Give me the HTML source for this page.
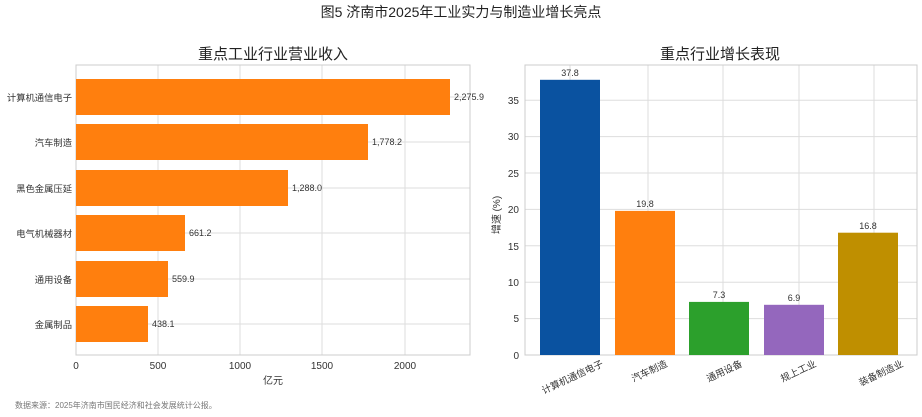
<!DOCTYPE html><html><head><meta charset="utf-8"><style>body{margin:0;background:#fff}svg{display:block;font-family:"Liberation Sans","Noto Sans CJK SC",sans-serif}</style></head><body>
<svg width="922" height="417" xmlns="http://www.w3.org/2000/svg">
<rect width="922" height="417" fill="#fff"/>
<text x="461" y="17" font-size="14" text-anchor="middle" fill="#222">图5 济南市2025年工业实力与制造业增长亮点</text>
<!-- left -->
<text x="273" y="59" font-size="15" text-anchor="middle" fill="#222">重点工业行业营业收入</text>
<g stroke="#ddd" stroke-width="1">
<line x1="158" y1="65" x2="158" y2="355"/><line x1="240" y1="65" x2="240" y2="355"/><line x1="322" y1="65" x2="322" y2="355"/><line x1="405" y1="65" x2="405" y2="355"/>
<line x1="76" y1="97" x2="470" y2="97"/><line x1="76" y1="142" x2="470" y2="142"/><line x1="76" y1="188" x2="470" y2="188"/><line x1="76" y1="233" x2="470" y2="233"/><line x1="76" y1="279" x2="470" y2="279"/><line x1="76" y1="324" x2="470" y2="324"/>
</g>
<rect x="76" y="65" width="394" height="290" fill="none" stroke="#ccc"/>
<g fill="#ff7f0e">
<rect x="76" y="79" width="374" height="36"/><rect x="76" y="124" width="292" height="36"/><rect x="76" y="170" width="212" height="36"/><rect x="76" y="215" width="109" height="36"/><rect x="76" y="261" width="92" height="36"/><rect x="76" y="306" width="72" height="36"/>
</g>
<g font-size="9" fill="#333">
<text x="454" y="100">2,275.9</text><text x="372" y="145">1,778.2</text><text x="292" y="191">1,288.0</text><text x="189" y="236">661.2</text><text x="172" y="282">559.9</text><text x="152" y="327">438.1</text>
</g>
<g font-size="9.3" fill="#333" text-anchor="end">
<text x="72" y="101">计算机通信电子</text><text x="72" y="146">汽车制造</text><text x="72" y="192">黑色金属压延</text><text x="72" y="237">电气机械器材</text><text x="72" y="283">通用设备</text><text x="72" y="328">金属制品</text>
</g>
<g font-size="10" fill="#333" text-anchor="middle">
<text x="76" y="369">0</text><text x="158" y="369">500</text><text x="240" y="369">1000</text><text x="322" y="369">1500</text><text x="405" y="369">2000</text>
<text x="273" y="384">亿元</text>
</g>
<!-- right -->
<text x="720" y="59" font-size="15" text-anchor="middle" fill="#222">重点行业增长表现</text>
<g stroke="#ddd" stroke-width="1">
<line x1="570" y1="65" x2="570" y2="355"/><line x1="648" y1="65" x2="648" y2="355"/><line x1="723" y1="65" x2="723" y2="355"/><line x1="799" y1="65" x2="799" y2="355"/><line x1="874" y1="65" x2="874" y2="355"/>
<line x1="525" y1="318.6" x2="917" y2="318.6"/><line x1="525" y1="282.2" x2="917" y2="282.2"/><line x1="525" y1="245.8" x2="917" y2="245.8"/><line x1="525" y1="209.4" x2="917" y2="209.4"/><line x1="525" y1="173" x2="917" y2="173"/><line x1="525" y1="136.6" x2="917" y2="136.6"/><line x1="525" y1="100.2" x2="917" y2="100.2"/>
</g>
<rect x="525" y="65" width="392" height="290" fill="none" stroke="#ccc"/>
<rect x="540" y="79.8" width="60" height="275.2" fill="#0a52a0"/>
<rect x="615" y="210.9" width="60" height="144.1" fill="#ff7f0e"/>
<rect x="689" y="301.9" width="60" height="53.1" fill="#2ca02c"/>
<rect x="764" y="304.8" width="60" height="50.2" fill="#9467bd"/>
<rect x="838" y="232.7" width="60" height="122.3" fill="#bf8f00"/>
<g font-size="9" fill="#333" text-anchor="middle">
<text x="570" y="76">37.8</text><text x="645" y="207">19.8</text><text x="719" y="298">7.3</text><text x="794" y="301">6.9</text><text x="868" y="229">16.8</text>
</g>
<g font-size="10" fill="#333" text-anchor="end">
<text x="519" y="359">0</text><text x="519" y="322">5</text><text x="519" y="286">10</text><text x="519" y="250">15</text><text x="519" y="213">20</text><text x="519" y="177">25</text><text x="519" y="140">30</text><text x="519" y="104">35</text>
</g>
<text transform="translate(500,215) rotate(-90)" font-size="10" fill="#333" text-anchor="middle">增速 (%)</text>
<g font-size="9.5" fill="#333" text-anchor="end">
<text transform="translate(604,366) rotate(-25)">计算机通信电子</text>
<text transform="translate(668,366) rotate(-25)">汽车制造</text>
<text transform="translate(743,366) rotate(-25)">通用设备</text>
<text transform="translate(817,366) rotate(-25)">规上工业</text>
<text transform="translate(904,366) rotate(-25)">装备制造业</text>
</g>
<text x="15" y="408" font-size="8" fill="#777">数据来源：2025年济南市国民经济和社会发展统计公报。</text>
</svg></body></html>
